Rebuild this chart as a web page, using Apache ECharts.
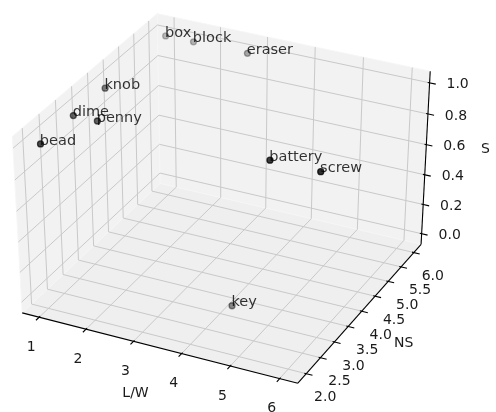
<!DOCTYPE html>
<html>
<head>
<meta charset="utf-8">
<script src="https://cdn.jsdelivr.net/npm/echarts@6/dist/echarts.min.js"></script>
<style>
  html, body { margin: 0; padding: 0; background: #fff; }
  #chart { width: 496px; height: 412px; }
</style>
</head>
<body>
<div id="chart"></div>
<script>
// Objects described by shape measures: L/W ratio, NS and S
const names = ['box', 'block', 'eraser', 'knob', 'dime', 'penny', 'bead', 'battery', 'screw', 'key'];
const lwValues = [1, 1.6, 2.75, 1, 1, 1.5, 1, 5, 6, 4.25];
const nsValues = [6, 6, 6, 4, 3, 3, 2, 3, 3, 3];
const sValues = [1, 1, 1, 1, 1, 1, 1, 1, 1, 0];

const lwTicks = [1, 2, 3, 4, 5, 6];
const nsTicks = [2.0, 2.5, 3.0, 3.5, 4.0, 4.5, 5.0, 5.5, 6.0];
const sTicks = [0.0, 0.2, 0.4, 0.6, 0.8, 1.0];
const lwTickLabels = ['1', '2', '3', '4', '5', '6'];
const nsTickLabels = ['2.0', '2.5', '3.0', '3.5', '4.0', '4.5', '5.0', '5.5', '6.0'];
const sTickLabels = ['0.0', '0.2', '0.4', '0.6', '0.8', '1.0'];

// ---- camera ----
const AZIM = -64, ELEV = 34.5, DIST = 12;
const BOX_ASPECT = [4, 4, 3.3];
const VIEW_X = [-0.073264, 0.088009];
const VIEW_Y = [-0.084752, 0.074427];

const FONT = 'DejaVu Sans, Liberation Sans, sans-serif';

// data limits with a 5% margin on each side
function limits(vals) {
  const lo = Math.min(...vals), hi = Math.max(...vals);
  const m = (hi - lo) * 0.05;
  return [lo - m, hi + m];
}
const LIM = [limits(lwValues), limits(nsValues), limits(sValues)];

function cross(a, b) { return [a[1]*b[2]-a[2]*b[1], a[2]*b[0]-a[0]*b[2], a[0]*b[1]-a[1]*b[0]]; }
function dot(a, b) { return a[0]*b[0] + a[1]*b[1] + a[2]*b[2]; }
function unit(a) { const n = Math.hypot(a[0], a[1], a[2]); return a.map(v => v / n); }

const aspectNorm = Math.hypot(4, 4, 3);
const BOX = BOX_ASPECT.map(v => v * 1.8294640721620434 / aspectNorm);
const RC = BOX.map(v => v / 2);
const az = AZIM * Math.PI / 180, el = ELEV * Math.PI / 180;
const Wd = [Math.cos(el) * Math.cos(az), Math.cos(el) * Math.sin(az), Math.sin(el)];
const Ud = unit(cross([0, 0, 1], Wd));
const Vd = cross(Wd, Ud);

// box coordinates -> projected plane [X, Y, distance from eye]
function projectBox(b) {
  const d = [b[0] - RC[0], b[1] - RC[1], b[2] - RC[2]];
  const den = DIST - dot(Wd, d);
  return [dot(Ud, d) / den, dot(Vd, d) / den, den];
}
function boxCoord(i, val) { return (val - LIM[i][0]) / (LIM[i][1] - LIM[i][0]) * BOX[i]; }
function projectData(x, y, z) { return projectBox([boxCoord(0, x), boxCoord(1, y), boxCoord(2, z)]); }

// pane extents (padded slightly beyond the data limits)
const PLO = BOX.map(v => -v / 48);
const PHI = BOX.map(v => v * 49 / 48);

function lineShape(a, b) { return { x1: a[0], y1: a[1], x2: b[0], y2: b[1] }; }

function buildScene(api) {
  const children = [];
  const pt = b => { const p = projectBox(b); return api.coord([p[0], p[1]]); };
  const [xl, yl, zl] = PLO, [xh, yh, zh] = PHI;

  // panes
  const panes = [
    { pts: [[xl, yl, zl], [xl, yh, zl], [xl, yh, zh], [xl, yl, zh]], fill: '#f2f2f2' },
    { pts: [[xl, yh, zl], [xh, yh, zl], [xh, yh, zh], [xl, yh, zh]], fill: '#f2f2f2' },
    { pts: [[xl, yl, zl], [xh, yl, zl], [xh, yh, zl], [xl, yh, zl]], fill: '#efefef' }
  ];
  panes.forEach(p => children.push({
    type: 'polygon', shape: { points: p.pts.map(pt) },
    style: { fill: p.fill, stroke: '#f6f6f6', lineWidth: 1 }
  }));

  // grid lines
  const gridStyle = { stroke: '#c9c9c9', lineWidth: 1, fill: null };
  lwTicks.forEach(v => {
    const b = boxCoord(0, v);
    children.push({ type: 'polyline', shape: { points: [pt([b, yl, zl]), pt([b, yh, zl]), pt([b, yh, zh])] }, style: gridStyle });
  });
  nsTicks.forEach(v => {
    const b = boxCoord(1, v);
    children.push({ type: 'polyline', shape: { points: [pt([xh, b, zl]), pt([xl, b, zl]), pt([xl, b, zh])] }, style: gridStyle });
  });
  sTicks.forEach(v => {
    const b = boxCoord(2, v);
    children.push({ type: 'polyline', shape: { points: [pt([xl, yl, b]), pt([xl, yh, b]), pt([xh, yh, b])] }, style: gridStyle });
  });

  // axis lines
  const axisStyle = { stroke: '#000', lineWidth: 1.1, fill: null };
  children.push({ type: 'polyline', shape: { points: [pt([xl, yl, zl]), pt([xh, yl, zl])] }, style: axisStyle });
  children.push({ type: 'polyline', shape: { points: [pt([xh, yl, zl]), pt([xh, yh, zl])] }, style: axisStyle });
  children.push({ type: 'polyline', shape: { points: [pt([xh, yh, zl]), pt([xh, yh, zh])] }, style: axisStyle });

  const tin = 0.008, tout = 0.026;
  const textEl = (text, p, dx, dy) => ({
    type: 'text', x: p[0] + dx, y: p[1] + dy,
    style: { text, fill: '#1a1a1a', font: '14px ' + FONT, align: 'center', verticalAlign: 'middle' }
  });

  lwTicks.forEach((v, i) => {
    const b = boxCoord(0, v);
    children.push({ type: 'line', shape: lineShape(pt([b, yl + tin, zl]), pt([b, yl - tout, zl])), style: axisStyle });
    children.push(textEl(lwTickLabels[i], pt([b, yl, zl]), -8, 30));
  });
  nsTicks.forEach((v, i) => {
    const b = boxCoord(1, v);
    children.push({ type: 'line', shape: lineShape(pt([xh - tin, b, zl]), pt([xh + tout, b, zl])), style: axisStyle });
    children.push(textEl(nsTickLabels[i], pt([xh, b, zl]), 19, 24));
  });
  sTicks.forEach((v, i) => {
    const b = boxCoord(2, v);
    children.push({ type: 'line', shape: lineShape(pt([xh - tin, yh, b]), pt([xh + tout, yh, b])), style: axisStyle });
    children.push(textEl(sTickLabels[i], pt([xh, yh, b]), 28, 2));
  });

  // axis titles
  children.push(textEl('L/W', pt([(xl + xh) / 2, yl, zl]), -22, 46));
  children.push(textEl('NS', pt([xh, (yl + yh) / 2, zl]), 42, 32));
  children.push(textEl('S', pt([xh, yh, (zl + zh) / 2]), 60, -10));

  return { type: 'group', children };
}

// projected points, depth-shaded (nearer = darker), drawn far to near
const projected = names.map((n, i) => {
  const p = projectData(lwValues[i], nsValues[i], sValues[i]);
  return { name: n, X: p[0], Y: p[1], dist: p[2] };
});
const dMin = Math.min(...projected.map(p => p.dist));
const dMax = Math.max(...projected.map(p => p.dist));
projected.sort((a, b) => b.dist - a.dist);
const scatterData = projected.map(p => {
  const a = (1 - 0.7 * (p.dist - dMin) / (dMax - dMin)).toFixed(3);
  return {
    name: p.name, value: [p.X, p.Y],
    itemStyle: { color: 'rgba(0,0,0,' + a + ')', borderColor: 'rgba(0,0,0,' + a + ')', borderWidth: 1.3 }
  };
});

const chart = echarts.init(document.getElementById('chart'), null, { renderer: 'canvas' });
chart.setOption({
  animation: false,
  backgroundColor: '#ffffff',
  grid: { left: 0, right: 0, top: 0, bottom: 0, containLabel: false },
  xAxis: { type: 'value', min: VIEW_X[0], max: VIEW_X[1], show: false },
  yAxis: { type: 'value', min: VIEW_Y[0], max: VIEW_Y[1], show: false },
  series: [
    {
      type: 'custom', name: 'frame', coordinateSystem: 'cartesian2d',
      data: [[0, 0]], clip: false, silent: true, z: 1,
      renderItem: (params, api) => buildScene(api)
    },
    {
      type: 'scatter', name: 'objects', data: scatterData, symbol: 'circle', symbolSize: 6,
      z: 5, silent: true,
      label: {
        show: true, formatter: '{b}', position: [3, 0.5], align: 'left', verticalAlign: 'middle',
        color: '#000', fontSize: 14.5, fontFamily: FONT
      },
      labelLayout: { hideOverlap: false }
    }
  ]
});
</script>
</body>
</html>
